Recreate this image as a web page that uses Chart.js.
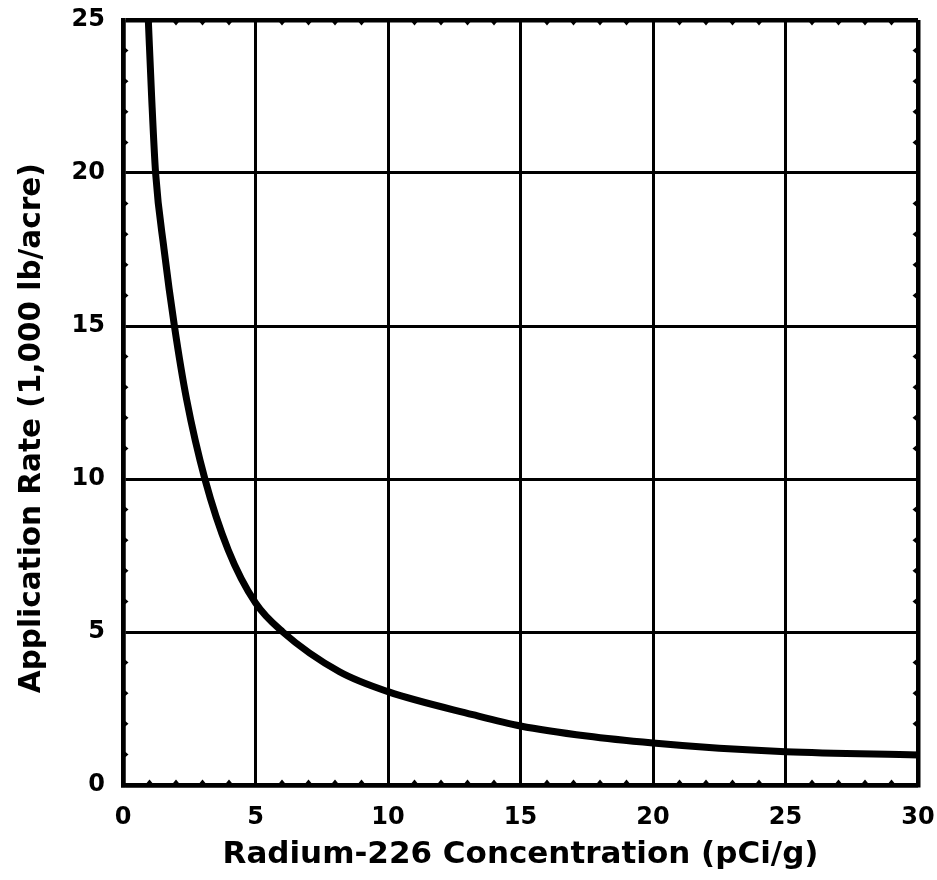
<!DOCTYPE html>
<html>
<head>
<meta charset="utf-8">
<script src="https://cdn.jsdelivr.net/npm/chart.js@4.4.1/dist/chart.umd.min.js"></script>
<style>
  html, body { margin: 0; padding: 0; background: #fff; }
  #wrap { width: 937px; height: 880px; position: relative; }
</style>
</head>
<body>
<div id="wrap"><canvas id="chart" width="937" height="880"></canvas></div>
<script>
// values
var concentration = [0.955, 1.08, 1.23, 1.55, 1.94, 2.4, 3.09, 3.97, 5, 6.03, 8.17, 10, 13.2, 15, 17.5, 20, 22.5, 25, 30];
var applicationRate = [25, 22.5, 20, 17.5, 15, 12.6, 10, 7.68, 5.95, 5, 3.7, 3.05, 2.3, 1.93, 1.6, 1.37, 1.2, 1.09, 0.98];
var xTicks = [0, 5, 10, 15, 20, 25, 30];
var yTicks = [0, 5, 10, 15, 20, 25];
var xTitle = "Radium-226 Concentration (pCi/g)";
var yTitle = "Application Rate (1,000 lb/acre)     ";

var points = [];
for (var i = 0; i < concentration.length; i++) {
    points.push({ x: concentration[i], y: applicationRate[i] });
}

var FONT = "'DejaVu Sans', Verdana, sans-serif";

// little inward ticks every 1 unit on all four sides
var minorTicks = {
    id: 'minorTicks',
    afterDatasetsDraw: function (chart) {
        var ctx = chart.ctx, xs = chart.scales.x, ys = chart.scales.y;
        var a = chart.chartArea, s = 4.5;
        ctx.save();
        ctx.fillStyle = '#000';
        for (var v = 1; v < 30; v++) {
            if (v % 5 === 0) continue;
            var px = xs.getPixelForValue(v);
            ctx.beginPath();
            ctx.moveTo(px - s, a.bottom); ctx.lineTo(px, a.bottom - s - 1); ctx.lineTo(px + s, a.bottom); ctx.fill();
            ctx.beginPath();
            ctx.moveTo(px - s, a.top); ctx.lineTo(px, a.top + s + 1); ctx.lineTo(px + s, a.top); ctx.fill();
        }
        for (var w = 1; w < 25; w++) {
            if (w % 5 === 0) continue;
            var py = ys.getPixelForValue(w);
            ctx.beginPath();
            ctx.moveTo(a.left, py - s); ctx.lineTo(a.left + s + 1, py); ctx.lineTo(a.left, py + s); ctx.fill();
            ctx.beginPath();
            ctx.moveTo(a.right, py - s); ctx.lineTo(a.right - s - 1, py); ctx.lineTo(a.right, py + s); ctx.fill();
        }
        ctx.restore();
    }
};

function gridWidth(max) {
    return function (c) {
        var v = c.tick ? c.tick.value : 0;
        return (v === 0 || v === max) ? 4.5 : 3;
    };
}

new Chart(document.getElementById('chart'), {
    type: 'line',
    data: {
        datasets: [{
            data: points,
            borderColor: '#000',
            borderWidth: 7,
            pointRadius: 0,
            fill: false,
            cubicInterpolationMode: 'monotone'
        }]
    },
    options: {
        responsive: false,
        animation: false,
        layout: { padding: { top: 20, right: 19, left: 0, bottom: 0 } },
        plugins: { legend: { display: false }, tooltip: { enabled: false } },
        scales: {
            x: {
                type: 'linear',
                min: 0, max: 30,
                afterFit: function (s) { s.height = 95; s.paddingLeft = 0; s.paddingRight = 0; },
                afterBuildTicks: function (s) { s.ticks = xTicks.map(function (v) { return { value: v }; }); },
                border: { display: true, color: '#000', width: 4.5 },
                grid: { color: '#000', lineWidth: gridWidth(30), drawTicks: false },
                ticks: { color: '#000', padding: 18, maxRotation: 0, font: { family: FONT, size: 24, weight: 'bold' } },
                title: { display: true, text: xTitle, color: '#000', padding: { top: 0, bottom: 6 },
                         font: { family: FONT, size: 31, weight: 'bold' } }
            },
            y: {
                type: 'linear',
                min: 0, max: 25,
                afterFit: function (s) { s.width = 123; s.paddingTop = 0; s.paddingBottom = 0; },
                afterBuildTicks: function (s) { s.ticks = yTicks.map(function (v) { return { value: v }; }); },
                border: { display: true, color: '#000', width: 4.5 },
                grid: { color: '#000', lineWidth: gridWidth(25), drawTicks: false },
                ticks: { color: '#000', padding: 18, font: { family: FONT, size: 24, weight: 'bold' } },
                title: { display: true, text: yTitle, color: '#000', padding: { top: 15, bottom: 0 },
                         font: { family: FONT, size: 29.5, weight: 'bold' } }
            }
        }
    },
    plugins: [minorTicks]
});
</script>
</body>
</html>
